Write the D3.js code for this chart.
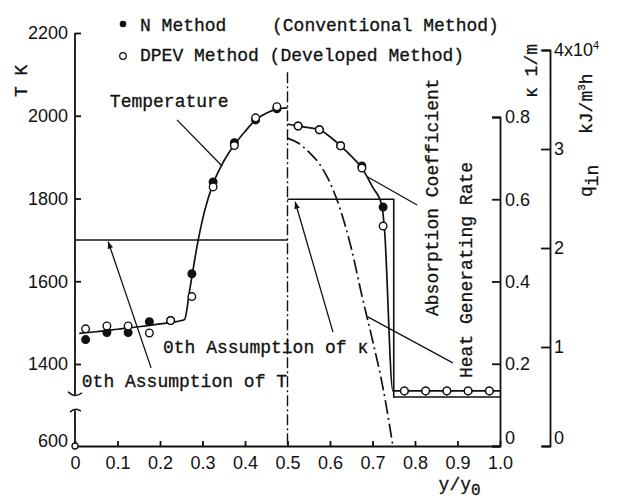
<!DOCTYPE html>
<html>
<head>
<meta charset="utf-8">
<script src="https://cdn.jsdelivr.net/npm/d3@7"></script>
<style>
  body { margin: 0; background: #fff; }
  .mono { font-family: "Liberation Mono", monospace; font-size: 18px; fill: #111; stroke: #111; stroke-width: 0.3px; }
  .num { font-family: "Liberation Sans", Arial, sans-serif; font-size: 18px; fill: #111; }
  .axis path, .axis line { stroke: #111; stroke-width: 1.8; }
</style>
</head>
<body>
<svg id="chart" width="618" height="502"></svg>
<script>
// ticks
const xTicks = [0, 0.1, 0.2, 0.3, 0.4, 0.5, 0.6, 0.7, 0.8, 0.9, 1.0];
const tTicks = [600, 1400, 1600, 1800, 2000, 2200];
const kTicks = [0, 0.2, 0.4, 0.6, 0.8];
const qTicks = [0, 1, 2, 3, 4];

// temperature, left half
const ptX = [0.025, 0.075, 0.125, 0.175, 0.225, 0.275, 0.325, 0.375, 0.425, 0.475];
const tN = [1459, 1476, 1476, 1502, 1505, 1618, 1840, 1935, 1990, 2017];
const tDPEV = [1485, 1492, 1492, 1475, 1505, 1563, 1828, 1928, 1995, 2022];
const tempX = [0.01, 0.05, 0.1, 0.15, 0.2, 0.25, 0.258, 0.27, 0.29, 0.305, 0.325, 0.35, 0.375, 0.4, 0.425, 0.45, 0.475, 0.5];
const tempT = [1474, 1478, 1484, 1490, 1497, 1505, 1508, 1580, 1700, 1770, 1836, 1890, 1930, 1962, 1990, 2006, 2016, 2019];
const t0X = [0, 0.5];
const t0 = [1700, 1700];

// absorption coefficient, right half
const kPtX = [0.525, 0.575, 0.625, 0.675, 0.725, 0.775, 0.825, 0.875, 0.925, 0.975];
const kN = [0.778, 0.769, 0.730, 0.681, 0.581, 0.134, 0.134, 0.134, 0.134, 0.134];
const kDPEV = [0.778, 0.769, 0.730, 0.676, 0.535, 0.134, 0.134, 0.134, 0.134, 0.134];
const kCurveX = [0.5, 0.525, 0.55, 0.575, 0.6, 0.625, 0.65, 0.675, 0.7, 0.722, 0.728, 0.748, 0.775, 1.0];
const kCurve = [0.783, 0.778, 0.774, 0.769, 0.752, 0.730, 0.705, 0.676, 0.630, 0.585, 0.530, 0.134, 0.134, 0.134];
const k0X = [0.5, 0.75, 0.75, 1.0];
const k0 = [0.6, 0.6, 0.119, 0.119];

// heat generating rate (x10^4 kJ/m3h)
const qX = [0.5, 0.525, 0.55, 0.575, 0.6, 0.625, 0.65, 0.675, 0.7, 0.725, 0.748];
const qV = [3.11, 3.06, 2.97, 2.85, 2.66, 2.38, 2.0, 1.52, 1.07, 0.58, 0];

const dims = { left: 75, right: 500, bottom: 446, top: 33, kTop: 117, qTop: 50, qAxis: 550 };

const svg = d3.select("#chart");
svg.append("defs").append("marker")
    .attr("id", "arrow").attr("viewBox", "0 0 10 10")
    .attr("refX", 10).attr("refY", 5)
    .attr("markerWidth", 7).attr("markerHeight", 7)
    .attr("markerUnits", "userSpaceOnUse")
    .attr("orient", "auto")
    .append("path").attr("d", "M0,1 L10,5 L0,9 Z").attr("fill", "#111");

const x = d3.scaleLinear().domain([0, 1]).range([dims.left, dims.right]);
// broken axis: 600 sits just under the break
const yT = d3.scaleLinear().domain([600, 1400, 2200]).range([dims.bottom, 364, dims.top]);
const yK = d3.scaleLinear().domain([0, 0.8]).range([dims.bottom, dims.kTop]);
const yQ = d3.scaleLinear().domain([0, 4]).range([dims.bottom, dims.qTop]);

// axes
const gx = svg.append("g").attr("class", "axis num")
    .attr("transform", `translate(0,${dims.bottom})`)
    .call(d3.axisBottom(x).tickValues(xTicks).tickSize(-5).tickSizeOuter(0).tickPadding(10)
        .tickFormat(d => d === 0 ? "0" : d3.format(".1f")(d)));
gx.selectAll("text").attr("class", "num").attr("fill", "#111");

const gy = svg.append("g").attr("class", "axis")
    .attr("transform", `translate(${dims.left},0)`)
    .call(d3.axisLeft(yT).tickValues(tTicks).tickSize(-6).tickPadding(7).tickFormat(d3.format("d")));
gy.select(".domain").remove();
gy.selectAll("text").attr("class", "num").attr("fill", "#111");
gy.selectAll(".tick").filter(d => d === 600).select("text").attr("dy", "0.0em");
gy.selectAll(".tick").filter(d => d === 600).select("line").remove();

// left axis line with break
svg.append("path")
    .attr("d", `M${x(0)},${yT(2200)} V${yT(1100)} M${x(0)},${yT(950)} V${yT(600)}`)
    .attr("stroke", "#111").attr("stroke-width", 1.8).attr("fill", "none");
svg.append("path")
    .attr("d", `M${x(0) - 7},${yT(1100) - 3} Q${x(0)},${yT(1100) + 4} ${x(0) + 7},${yT(1100) - 2}`)
    .attr("stroke", "#111").attr("stroke-width", 1.5).attr("fill", "none");
svg.append("path")
    .attr("d", `M${x(0) - 5},${yT(950) + 2} Q${x(0)},${yT(950) - 3} ${x(0) + 6},${yT(950) + 1}`)
    .attr("stroke", "#111").attr("stroke-width", 1.5).attr("fill", "none");
svg.append("circle").attr("cx", x(0)).attr("cy", yT(600)).attr("r", 3)
    .attr("fill", "#fff").attr("stroke", "#111").attr("stroke-width", 1.3);

const gk = svg.append("g").attr("class", "axis")
    .attr("transform", `translate(${dims.right},0)`)
    .call(d3.axisRight(yK).tickValues(kTicks).tickSize(-8).tickSizeOuter(-8).tickPadding(5)
        .tickFormat(d => d === 0 ? "0" : d3.format(".1f")(d)));
gk.selectAll("text").attr("class", "num").attr("fill", "#111");
gk.selectAll(".tick").filter(d => d === 0).select("text").attr("dy", "-0.15em");

const gq = svg.append("g").attr("class", "axis")
    .attr("transform", `translate(${dims.qAxis},0)`)
    .call(d3.axisRight(yQ).tickValues(qTicks).tickSize(-9).tickSizeOuter(-8).tickPadding(4)
        .tickFormat(d => d === 4 ? "4x10" : d));
gq.selectAll("text").attr("class", "num").attr("fill", "#111");
gq.selectAll(".tick").filter(d => d === 0).select("text").attr("dy", "-0.15em");
gq.selectAll(".tick").filter(d => d === 4).select("text")
    .append("tspan").attr("dy", "-7").attr("font-size", 11).text("4");

// axis titles
const vtext = (px, py, anchor) => svg.append("text").attr("class", "mono")
    .attr("transform", `translate(${px},${py}) rotate(-90)`)
    .attr("text-anchor", anchor);
vtext(27, 97, "start").text("T  K");
vtext(537, 98, "start").text("κ  1/m");
const qt = vtext(592, 197, "start");
qt.append("tspan").text("q");
qt.append("tspan").attr("dy", 6).text("in");
const qu = vtext(592, 134, "start");
qu.append("tspan").text("kJ/m");
qu.append("tspan").attr("dy", -7).attr("font-size", 11).text("3");
qu.append("tspan").attr("dy", 7).text("h");
svg.append("text").attr("class", "mono").attr("x", x(0.905)).attr("y", 490)
    .attr("text-anchor", "middle")
    .call(t => {
        t.append("tspan").text("y/y");
        t.append("tspan").attr("dy", 5).attr("font-size", 16).text("0");
    });

// divider at y/y0 = 0.5
svg.append("line")
    .attr("x1", x(0.5)).attr("x2", x(0.5))
    .attr("y1", yT(2105)).attr("y2", yT(600))
    .attr("stroke", "#111").attr("stroke-width", 1.4)
    .attr("stroke-dasharray", "11,3,2,3");

const line = d3.line().x(d => x(d[0]));

// 0th assumptions
svg.append("path")
    .attr("d", line.y(d => yT(d[1])).curve(d3.curveLinear)(d3.zip(t0X, t0)))
    .attr("fill", "none").attr("stroke", "#111").attr("stroke-width", 1.5);
svg.append("path")
    .attr("d", line.y(d => yK(d[1])).curve(d3.curveLinear)(d3.zip(k0X, k0)))
    .attr("fill", "none").attr("stroke", "#111").attr("stroke-width", 1.6);

// heat generating rate
svg.append("path")
    .attr("d", line.y(d => yQ(d[1])).curve(d3.curveMonotoneX)(d3.zip(qX, qV)))
    .attr("fill", "none").attr("stroke", "#111").attr("stroke-width", 1.7)
    .attr("stroke-dasharray", "14,4,2,4");

// temperature & absorption coefficient curves
svg.append("path")
    .attr("d", line.y(d => yT(d[1])).curve(d3.curveMonotoneX)(d3.zip(tempX, tempT)))
    .attr("fill", "none").attr("stroke", "#111").attr("stroke-width", 1.7);
svg.append("path")
    .attr("d", line.y(d => yK(d[1])).curve(d3.curveMonotoneX)(d3.zip(kCurveX, kCurve)))
    .attr("fill", "none").attr("stroke", "#111").attr("stroke-width", 1.7);

// markers: N filled first, DPEV open on top
const dots = (xs, vs, y, open) => svg.append("g").selectAll("circle")
    .data(d3.zip(xs, vs)).enter().append("circle")
    .attr("cx", d => x(d[0])).attr("cy", d => y(d[1])).attr("r", 3.8)
    .attr("fill", open ? "#fff" : "#111")
    .attr("stroke", "#111").attr("stroke-width", 1.4);
dots(ptX, tN, yT, false);
dots(kPtX, kN, yK, false);
dots(ptX, tDPEV, yT, true);
dots(kPtX, kDPEV, yK, true);

// annotations (positions in x / kappa units)
const at = (ax, ak) => [x(ax), yK(ak)];
const leader = (a, b, arrow) => {
    const p = svg.append("line")
        .attr("x1", at(...a)[0]).attr("y1", at(...a)[1])
        .attr("x2", at(...b)[0]).attr("y2", at(...b)[1])
        .attr("stroke", "#111").attr("stroke-width", 1.3);
    if (arrow) p.attr("marker-end", "url(#arrow)");
};
const label = (a, s) => svg.append("text").attr("class", "mono")
    .attr("x", at(...a)[0]).attr("y", at(...a)[1]).text(s);

label([0.082, 0.824], "Temperature");
leader([0.24, 0.793], [0.346, 0.681], false);
label([0.016, 0.143], "0th Assumption of T");
leader([0.179, 0.19], [0.078, 0.497], true);
label([0.207, 0.226], "0th Assumption of κ");
leader([0.607, 0.277], [0.518, 0.594], true);
leader([0.689, 0.314], [0.889, 0.202], false);
leader([0.689, 0.654], [0.805, 0.586], false);
vtext(x(0.854), yK(0.605), "middle").text("Absorption Coefficient");
vtext(x(0.934), yK(0.428), "middle").text("Heat Generating Rate");

// legend
svg.append("circle").attr("cx", 123).attr("cy", 24).attr("r", 3.3).attr("fill", "#111");
svg.append("text").attr("class", "mono").attr("x", 140).attr("y", 31).text("N Method");
svg.append("text").attr("class", "mono").attr("x", 272).attr("y", 31).text("(Conventional Method)");
svg.append("circle").attr("cx", 123).attr("cy", 56).attr("r", 3.3)
    .attr("fill", "#fff").attr("stroke", "#111").attr("stroke-width", 1.3);
svg.append("text").attr("class", "mono").attr("x", 140).attr("y", 61).text("DPEV Method (Developed Method)");
</script>
</body>
</html>
